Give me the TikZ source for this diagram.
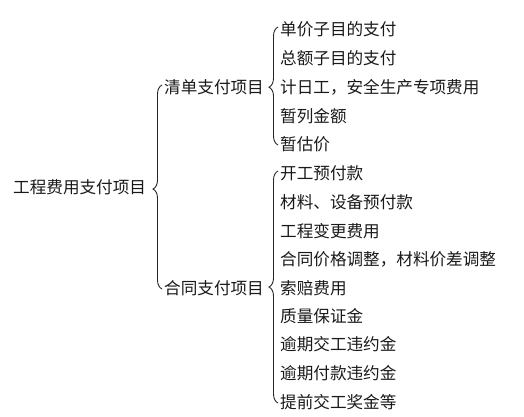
\documentclass[tikz,border=0pt]{standalone}
\usepackage{fontspec}
\newfontfamily\cjk{Noto Sans CJK SC}
\usetikzlibrary{decorations.pathreplacing,calc}
\begin{document}
\begin{tikzpicture}[x=1pt,y=-1pt,
  lbl/.style={anchor=west,inner sep=0pt,font=\cjk\fontsize{16.6}{18}\selectfont,text=black!90},
  bracepath/.style={decorate,decoration={brace,amplitude=9pt},line width=0.9pt,draw=black!85}]
\useasboundingbox (0,0) rectangle (524,416);
% root
\node[lbl] (root) at (13,187) {工程费用支付项目};
% level 1
\node[lbl] (qd) at (164,87) {清单支付项目};
\node[lbl] (ht) at (164,288) {合同支付项目};
% level 2 (清单)
\node[lbl] (a1) at (280,29)  {单价子目的支付};
\node[lbl] (a2) at (280,58)  {总额子目的支付};
\node[lbl] (a3) at (280,87)  {计日工，安全生产专项费用};
\node[lbl] (a4) at (280,116) {暂列金额};
\node[lbl] (a5) at (280,144) {暂估价};
% level 2 (合同)
\node[lbl] (b1) at (280,173) {开工预付款};
\node[lbl] (b2) at (280,202) {材料、设备预付款};
\node[lbl] (b3) at (280,231) {工程变更费用};
\node[lbl] (b4) at (280,259) {合同价格调整，材料价差调整};
\node[lbl] (b5) at (280,288) {索赔费用};
\node[lbl] (b6) at (280,316) {质量保证金};
\node[lbl] (b7) at (280,344) {逾期交工违约金};
\node[lbl] (b8) at (280,373) {逾期付款违约金};
\node[lbl] (b9) at (280,402) {提前交工奖金等};
% braces
\coordinate (r1) at ($(ht.west)+(-2,1)$);
\coordinate (r2) at ($(qd.west)+(-2,-2)$);
\draw[bracepath,decoration={aspect=0.49}] (r1) -- (r2);
\coordinate (q1) at ($(a5.west)+(-2,1)$);
\coordinate (q2) at ($(a1.west)+(-2,-2)$);
\draw[bracepath,decoration={aspect=0.49}] (q1) -- (q2);
\coordinate (h1) at ($(b9.west)+(-2,1)$);
\coordinate (h2) at ($(b1.west)+(-2,-2)$);
\draw[bracepath,decoration={aspect=0.5}] (h1) -- (h2);
\end{tikzpicture}
\end{document}
